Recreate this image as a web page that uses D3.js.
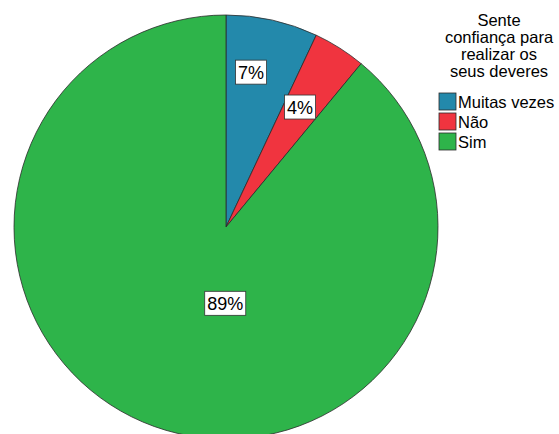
<!DOCTYPE html>
<html>
<head>
<meta charset="utf-8">
<script src="https://cdn.jsdelivr.net/npm/d3@7"></script>
<style>
  body { margin: 0; background: #fff; }
  svg { display: block; font-family: "Liberation Sans", Arial, sans-serif; }
</style>
</head>
<body>
<script>
// Categories, shares (percent) and slice colours
const categories = ["Muitas vezes", "Não", "Sim"];
const values = [7, 4, 89];
const colors = ["#2389ab", "#f0343f", "#2eb44a"];
const legendTitle = ["Sente", "confiança para", "realizar os", "seus deveres"];

const W = 559, H = 434;
const cx = 226, cy = 227, R = 212;

const svg = d3.select("body").append("svg").attr("width", W).attr("height", H);

const pie = d3.pie().sort(null).value(d => d.value);
const arcs = pie(categories.map((c, i) => ({ cat: c, value: values[i], color: colors[i] })));
const arc = d3.arc().innerRadius(0).outerRadius(R);

const g = svg.append("g").attr("transform", `translate(${cx},${cy})`);
g.selectAll("path").data(arcs).join("path")
  .attr("d", arc)
  .attr("fill", d => d.data.color)
  .attr("stroke", "#2b2b2b")
  .attr("stroke-width", 0.8);

// Label anchor inside each slice: fraction along the slice angle, fraction of radius
const labelAngleFrac = [0.365, 0.45, 0.44];
const labelRadiusFrac = [0.74, 0.665, 0.36];
function pos(d, i) {
  const a = d.startAngle + (d.endAngle - d.startAngle) * labelAngleFrac[i];
  const r = R * labelRadiusFrac[i];
  return [Math.sin(a) * r, -Math.cos(a) * r];
}
const lbl = g.selectAll("g.lbl").data(arcs).join("g")
  .attr("class", "lbl")
  .attr("transform", (d, i) => `translate(${pos(d, i)})`);
lbl.append("text")
  .attr("text-anchor", "middle")
  .attr("dy", "0.36em")
  .attr("font-size", 18)
  .attr("fill", "#000")
  .text(d => d.data.value + "%")
  .each(function () {
    const b = this.getBBox();
    const w = b.width + 5, h = 24;
    d3.select(this.parentNode).insert("rect", "text")
      .attr("x", -w / 2).attr("y", -h / 2)
      .attr("width", w).attr("height", h)
      .attr("fill", "#fff").attr("stroke", "#333").attr("stroke-width", 0.8);
  });

// Legend
const lg = svg.append("g");
lg.selectAll("text.t").data(legendTitle).join("text")
  .attr("class", "t")
  .attr("x", 499).attr("y", (d, i) => 26 + i * 17)
  .attr("text-anchor", "middle").attr("font-size", 16.5).attr("fill", "#000")
  .text(d => d);
const items = lg.selectAll("g.it").data(categories).join("g")
  .attr("class", "it")
  .attr("transform", (d, i) => `translate(439,${93 + i * 20})`);
items.append("rect")
  .attr("width", 17).attr("height", 17)
  .attr("fill", (d, i) => colors[i]).attr("stroke", "#2b2b2b").attr("stroke-width", 0.8);
items.append("text")
  .attr("x", 19).attr("y", 15).attr("font-size", 16.5).attr("fill", "#000")
  .text(d => d);
</script>
</body>
</html>
